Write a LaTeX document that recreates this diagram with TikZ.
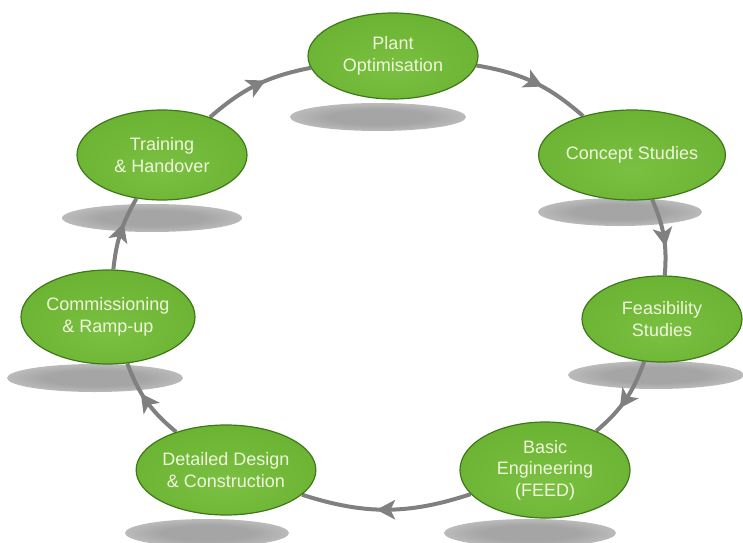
\documentclass[tikz,border=0pt]{standalone}
\usepackage{fontspec}
\setmainfont{Liberation Sans}
\usetikzlibrary{arrows.meta,shapes.geometric,decorations.markings,backgrounds}

\definecolor{leafA}{RGB}{122,192,66}
\definecolor{leafB}{RGB}{106,178,50}
\definecolor{leafC}{RGB}{78,148,32}
\definecolor{leafD}{RGB}{118,190,64}
\definecolor{leafE}{RGB}{165,220,112}
\definecolor{leafRim}{RGB}{62,120,26}
\definecolor{leafText}{RGB}{240,246,220}
\definecolor{flowgrey}{RGB}{128,128,128}
\definecolor{shadowgrey}{RGB}{165,165,165}
\definecolor{shadowmid}{RGB}{200,200,200}

\pgfdeclareradialshading{leafball}{\pgfpoint{0bp}{-8bp}}{color(0bp)=(leafA); color(32bp)=(leafB); color(42bp)=(leafC); color(51bp)=(leafD); color(58bp)=(leafE); color(70bp)=(leafE)}
\pgfdeclareradialshading{blurshadow}{\pgfpoint{0bp}{0bp}}{color(0bp)=(shadowgrey); color(14bp)=(shadowgrey); color(32bp)=(shadowmid); color(50bp)=(white); color(60bp)=(white)}

\begin{document}
\begin{tikzpicture}[x=1pt,y=1pt,
	stage/.style={ellipse, shading=leafball, draw=leafRim, line width=1.2pt,
		minimum width=170pt, minimum height=90pt, inner sep=0pt, align=center,
		text=leafText, font=\fontsize{18}{21.5}\selectfont},
	flow/.style={draw=flowgrey, line width=4pt, bend left=#1, postaction={decorate},
		decoration={markings, mark=at position 0.5 with {\fill [flowgrey] (10pt,0pt) -- (-9pt,10pt) -- (-4pt,0pt) -- (-9pt,-10pt) -- cycle;}}}]

		\useasboundingbox (0,0) rectangle (743,542);

		\node [stage, minimum height=86pt] (plant) at (393,486) {Plant\\Optimisation};
		\node [stage, minimum width=160pt] (concept) at (632,387) {Concept Studies};
		\node [stage, minimum width=160pt, minimum height=86pt] (feas) at (662,223) {Feasibility\\Studies};
		\node [stage, minimum height=96pt] (basic) at (545,72) {Basic\\Engineering\\(FEED)};
		\node [stage] (detail) at (226,72) {Detailed Design\\\& Construction};
		\node [stage, minimum height=94pt] (comm) at (108,225) {Commissioning\\\& Ramp-up};
		\node [stage] (train) at (162,387) {Training\\\& Handover};

		\begin{scope}[on background layer]
			% shadows
			\foreach \sx/\sy/\sr in {378/425/88, 620/330/82, 656/167/88, 530/9/86, 207/9/82, 95/164/88, 152/324/90}
				\shade [shading=blurshadow] (\sx,\sy) ellipse ({\sr} and 14);

			\draw [flow=15] (train) to (plant);
			\draw [flow=16] (plant) to (concept);
			\draw [flow=14] (concept) to (feas);
			\draw [flow=15] (feas) to (basic);
			\draw [flow=18] (basic) to (detail);
			\draw [flow=15] (detail) to (comm);
			\draw [flow=12] (comm) to (train);
		\end{scope}

\end{tikzpicture}
\end{document}
